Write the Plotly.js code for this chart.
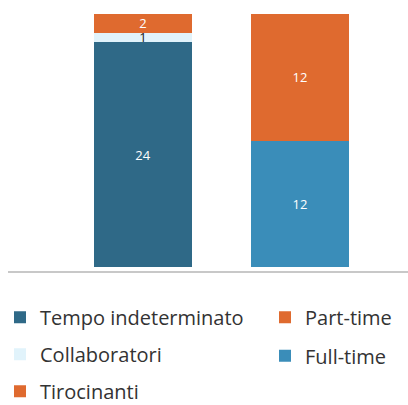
<!DOCTYPE html>
<html>
<head>
<meta charset="utf-8">
<script src="https://cdn.plot.ly/plotly-3.0.1.min.js"></script>
<style>html,body{margin:0;padding:0;background:#fff;}#chart{width:408px;height:405px;}</style>
</head>
<body>
<div id="chart"></div>
<script>
var categories = ['Tipologia', 'Orario'];
var tempoIndeterminato = [24];
var collaboratori = [1];
var tirocinanti = [2];
var fullTime = [12];
var partTime = [12];

var colors = {
  tempo: '#2f6987',
  collab: '#e1f3fb',
  tiro: '#df6a2f',
  full: '#3a8db9',
  part: '#df6a2f'
};

function barTrace(name, cat, vals, color, textColor, legend, group, rank) {
  return {
    type: 'bar',
    name: name,
    x: [cat],
    y: vals,
    text: vals.map(String),
    texttemplate: '%{text}',
    textposition: 'inside',
    insidetextanchor: 'middle',
    constraintext: 'none',
    textangle: 0,
    textfont: {family: 'Open Sans, sans-serif', size: 13, color: textColor},
    marker: {color: color},
    width: 0.63,
    legend: legend,
    legendgroup: group,
    legendrank: rank,
    hoverinfo: 'none'
  };
}

var data = [
  barTrace('Tempo indeterminato', categories[0], tempoIndeterminato, colors.tempo, '#ffffff', 'legend', 'g1', 1),
  barTrace('Collaboratori', categories[0], collaboratori, colors.collab, '#222222', 'legend', 'g2', 2),
  barTrace('Tirocinanti', categories[0], tirocinanti, colors.tiro, '#ffffff', 'legend', 'g3', 3),
  barTrace('Full-time', categories[1], fullTime, colors.full, '#ffffff', 'legend2', 'g4', 2),
  barTrace('Part-time', categories[1], partTime, colors.part, '#ffffff', 'legend2', 'g5', 1)
];

var legendFont = {family: 'Open Sans, sans-serif', size: 20, color: '#333333'};

var layout = {
  width: 408,
  height: 405,
  margin: {l: 8, r: 0, t: 14, b: 134, autoexpand: false},
  paper_bgcolor: '#ffffff',
  plot_bgcolor: '#ffffff',
  barmode: 'stack',
  barnorm: 'percent',
  showlegend: true,
  xaxis: {
    type: 'category',
    range: [-0.86, 1.688],
    showline: true,
    linecolor: '#c8c8c8',
    linewidth: 1.5,
    showticklabels: false,
    ticks: '',
    showgrid: false,
    zeroline: false,
    fixedrange: true
  },
  yaxis: {
    range: [-1.4, 100],
    showticklabels: false,
    showgrid: false,
    zeroline: false,
    showline: false,
    ticks: '',
    fixedrange: true
  },
  legend: {
    xref: 'paper', yref: 'paper',
    x: -0.02, y: -0.104, xanchor: 'left', yanchor: 'top',
    orientation: 'v', traceorder: 'grouped', tracegroupgap: 8,
    font: legendFont, bgcolor: 'rgba(0,0,0,0)', borderwidth: 0
  },
  legend2: {
    xref: 'paper', yref: 'paper',
    x: 0.6425, y: -0.104, xanchor: 'left', yanchor: 'top',
    orientation: 'v', traceorder: 'grouped', tracegroupgap: 9.5,
    font: legendFont, bgcolor: 'rgba(0,0,0,0)', borderwidth: 0
  }
};

Plotly.newPlot('chart', data, layout, {displayModeBar: false, staticPlot: true});
</script>
</body>
</html>
